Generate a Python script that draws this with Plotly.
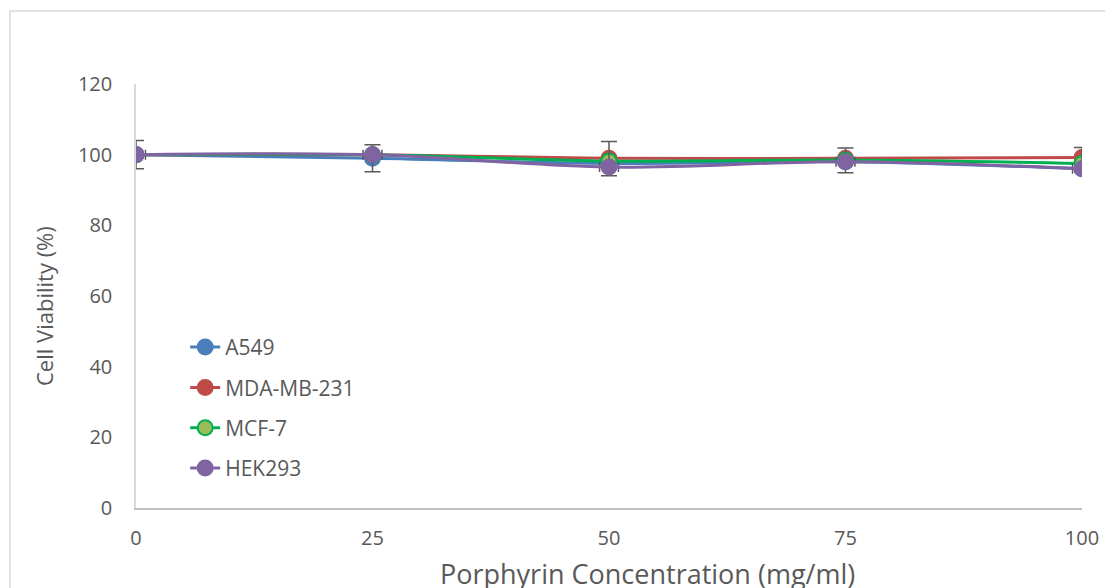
import plotly.graph_objects as go

conc = [0, 25, 50, 75, 100]
a549 = [100, 99, 97.5, 98, 96]
mda = [100, 100, 99, 99, 99.2]
mcf7 = [100, 100, 98.2, 98.5, 97.5]
hek293 = [100, 100, 96.5, 98, 96]
err_plus = [4, 2.8, 7.2, 3.9, 6]
err_minus = [4, 4.8, 2.5, 3.1, 1]
err_x = [1, 1, 1, 1, 1]

series = [
    ("A549", a549, "#4a7ebb", "#4a7ebb"),
    ("MDA-MB-231", mda, "#be4b48", "#be4b48"),
    ("MCF-7", mcf7, "#00b050", "#9bbb59"),
    ("HEK293", hek293, "#8064a2", "#8064a2"),
]

fig = go.Figure()
for i, (name, vals, lc, mc) in enumerate(series):
    kw = {}
    if name == "HEK293":
        kw = dict(
            error_y=dict(type="data", symmetric=False, array=err_plus, arrayminus=err_minus,
                         color="#595959", thickness=1.5, width=8),
            error_x=dict(type="data", array=err_x, color="#595959", thickness=1.5, width=5),
        )
    fig.add_trace(go.Scatter(
        x=conc, y=vals, name=name, mode="lines+markers",
        line=dict(color=lc, width=3, shape="spline"),
        marker=dict(size=15, color=mc, line=dict(color=lc, width=2)),
        legendgroup=name, **kw,
    ))

fig.update_layout(
    width=1105, height=588,
    margin=dict(l=136, r=23, t=84, b=80),
    paper_bgcolor="white", plot_bgcolor="white",
    font=dict(family="Open Sans", color="#595959", size=20),
    showlegend=True,
    legend=dict(x=0.052, y=0.427, xanchor="left", yanchor="top",
                font=dict(size=21, color="#595959"), tracegroupgap=10,
                bgcolor="rgba(0,0,0,0)"),
    xaxis=dict(range=[0, 100], tickvals=conc, ticktext=[str(c) for c in conc],
               showgrid=False, zeroline=False, showline=True, linecolor="#bfbfbf",
               linewidth=1.5, ticks="outside", ticklen=11, tickcolor="rgba(0,0,0,0)",
               automargin=False, tickfont=dict(size=20)),
    yaxis=dict(range=[0, 120], tickvals=[0, 20, 40, 60, 80, 100, 120],
               showgrid=False, zeroline=False, showline=True, linecolor="#d9d9d9",
               linewidth=1.5, ticks="outside", ticklen=18, tickcolor="rgba(0,0,0,0)",
               automargin=False, tickfont=dict(size=20)),
    annotations=[
        dict(text="Porphyrin Concentration (mg/ml)", xref="paper", yref="paper",
             x=(647 - 136) / 946, y=(508 - 573) / 424, xanchor="center", yanchor="middle",
             showarrow=False, font=dict(size=27, color="#595959")),
        dict(text="Cell Viability (%)", xref="paper", yref="paper",
             x=(44 - 136) / 946, y=(508 - 306) / 424, xanchor="center", yanchor="middle",
             textangle=-90, showarrow=False, font=dict(size=22, color="#595959")),
    ],
    shapes=[dict(type="rect", xref="paper", yref="paper",
                 x0=(10 - 136) / 946, x1=1.2, y0=-0.4, y1=(508 - 11) / 424,
                 line=dict(color="#d9d9d9", width=1.5), layer="below")],
)

fig.write_html("out.html")
